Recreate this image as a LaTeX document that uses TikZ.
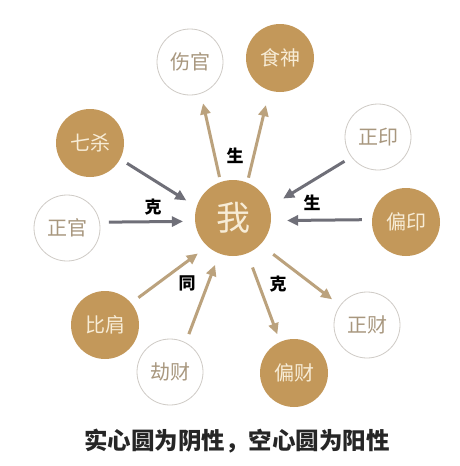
\documentclass[tikz,border=0pt]{standalone}
\usepackage{fontspec}
\newfontfamily\cjk{Noto Sans CJK SC}
\usetikzlibrary{arrows.meta}
\definecolor{gold}{HTML}{C3985A}
\definecolor{cream}{HTML}{F7ECD6}
\definecolor{ring}{HTML}{CFCBC6}
\definecolor{ringtext}{HTML}{A8977E}
\definecolor{tanarrow}{HTML}{BBA27D}
\definecolor{grayarrow}{HTML}{6F6F78}
\tikzset{
  yin/.style={circle, fill=gold, minimum size=68pt, inner sep=0pt, text=cream, font=\cjk\fontsize{20}{20}\selectfont},
  yang/.style={circle, draw=ring, line width=0.8pt, fill=white, minimum size=66pt, inner sep=0pt, text=ringtext, font=\cjk\fontsize{20}{20}\selectfont},
  me/.style={circle, fill=gold, minimum size=76pt, inner sep=0pt, text=cream, font=\cjk\fontsize{34}{34}\selectfont},
  tanarr/.style={draw=tanarrow, line width=3pt, -{Triangle[length=11pt,width=10pt]}},
  grayarr/.style={draw=grayarrow, line width=3pt, -{Triangle[length=11pt,width=10pt]}},
  rel/.style={font=\cjk\bfseries\fontsize{17}{17}\selectfont, text=black},
  caption/.style={font=\cjk\bfseries\fontsize{23.5}{23.5}\selectfont, text=black!85},
}
\begin{document}
\begin{tikzpicture}[x=1pt,y=-1pt]
\useasboundingbox[fill=white] (0,0) rectangle (460,466);
% nodes
\node[me]   (wo)  at (233,218) {我};
\node[yang] (sg)  at (190,62)  {伤官};
\node[yin]  (ss)  at (280,58)  {食神};
\node[yin]  (qs)  at (90,143)  {七杀};
\node[yang] (zg)  at (67,228)  {正官};
\node[yang] (zy)  at (378,137) {正印};
\node[yin]  (py)  at (406,222) {偏印};
\node[yin]  (bj)  at (105,325) {比肩};
\node[yang] (jc)  at (170,372) {劫财};
\node[yin]  (pc)  at (294,373) {偏财};
\node[yang] (zc)  at (367,325) {正财};
% arrows: 生 (output)
\draw[tanarr, shorten <=5pt, shorten >=10pt] (wo.109) -- (sg.289);
\draw[tanarr, shorten <=5pt, shorten >=15pt] (wo.68) -- (ss.252);
% 克 (controls me)
\draw[grayarr, shorten <=8pt, shorten >=12pt] (qs.332) -- (wo.163);
\draw[grayarr, shorten <=9pt, shorten >=12pt] (zg.10) -- (wo.185);
% 生 (resource)
\draw[grayarr, shorten <=8pt, shorten >=16pt] (zy.217) -- (wo.17);
\draw[grayarr, shorten <=10pt, shorten >=16pt] (py.176) -- (wo.356);
% 同
\draw[tanarr, shorten <=9pt, shorten >=12pt] (bj.40) -- (wo.228);
\draw[tanarr, shorten <=9pt, shorten >=12pt] (jc.62) -- (wo.249);
% 克 (I control)
\draw[tanarr, shorten <=15pt, shorten >=8pt] (wo.292) -- (pc.114);
\draw[tanarr, shorten <=16pt, shorten >=10pt] (wo.316) -- (zc.144);
% labels
\node[rel] (l1) at (235,156) {生};
\node[rel] (l2) at (153,207) {克};
\node[rel] (l3) at (312,203) {生};
\node[rel] (l4) at (187,283) {同};
\node[rel] (l5) at (278,284) {克};
% caption
\node[caption] (cap) at (237,441) {实心圆为阴性，空心圆为阳性};
\end{tikzpicture}
\end{document}
